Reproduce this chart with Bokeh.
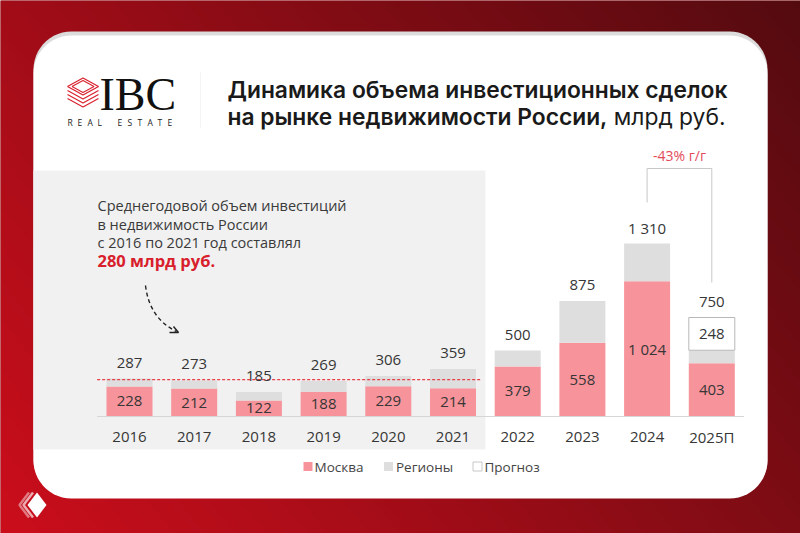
import numpy as np
from bokeh.plotting import figure
from bokeh.models import Range1d, ColumnDataSource
from bokeh.core.properties import value
from bokeh.embed import file_html
from bokeh.resources import INLINE

# ---- data: investment volume, bn RUB ----
years = ["2016", "2017", "2018", "2019", "2020", "2021", "2022", "2023", "2024", "2025П"]
totals = [287, 273, 185, 269, 306, 359, 500, 875, 1310, 750]
moscow = [228, 212, 122, 188, 229, 214, 379, 558, 1024, 403]
forecast = [0, 0, 0, 0, 0, 0, 0, 0, 0, 248]
regions = [t - m - f for t, m, f in zip(totals, moscow, forecast)]

legend_labels = ["Москва", "Регионы", "Прогноз"]

# ---- canvas geometry (pixel <-> data) ----
W, H = 800, 533
X0, STEP = 129.0, 64.7     # pixel x of first category, pixels per category
BASE, K = 416.0, 0.132     # pixel y of zero, pixels per bn RUB


def dx(px):
    return (px - X0) / STEP


def dy(py):
    return (BASE - py) / K


FONT = "Open Sans"
TFONT = "'Inter SemiBold', 'Inter Semi Bold', Inter"

p = figure(width=W, height=H, x_range=Range1d(dx(0), dx(W)), y_range=Range1d(dy(H), dy(0)),
           output_backend="svg", toolbar_location=None, min_border=0,
           x_axis_location=None, y_axis_location=None)
p.grid.visible = False
p.outline_line_color = None
p.background_fill_color = "#8a0c14"
p.border_fill_color = "#8a0c14"

# ---- red gradient background ----
nh, nw = 267, 400
u = (np.arange(nw) + 0.5) / nw
v = (np.arange(nh) + 0.5) / nh
t = np.clip(0.65 * u[None, :] + 0.35 * v[:, None], 0, 1)
c0 = np.array([204, 14, 28])
c1 = np.array([84, 11, 16])
rgb = c0[None, None, :] + (c1 - c0)[None, None, :] * t[:, :, None]
rgba = np.zeros((nh, nw, 4), dtype=np.uint8)
rgba[:, :, :3] = rgb.astype(np.uint8)
rgba[:, :, 3] = 255
img = rgba.view(dtype=np.uint32).reshape((nh, nw))
p.image_rgba(image=[img], x=dx(0), y=dy(H), dw=dx(W) - dx(0), dh=dy(0) - dy(H))


def rounded(l, t_, r, b, rad, n=14):
    xs, ys = [], []
    for cx, cy, a0 in [(r - rad, t_ + rad, -90), (r - rad, b - rad, 0),
                       (l + rad, b - rad, 90), (l + rad, t_ + rad, 180)]:
        for a in np.linspace(a0, a0 + 90, n):
            xs.append(cx + rad * np.cos(np.radians(a)))
            ys.append(cy + rad * np.sin(np.radians(a)))
    return [dx(x) for x in xs], [dy(y) for y in ys]


# ---- white card ----
sx, sy = rounded(33, 31, 767, 497, 38)
p.patch(sx, sy, fill_color="#dcdcdc", line_color=None)
cx_, cy_ = rounded(33, 35, 767, 498, 38)
p.patch(cx_, cy_, fill_color="white", line_color=None)

# light panel behind 2016-2021
p.quad(left=dx(33), right=5.5, top=dy(170), bottom=dy(449), fill_color="#f1f1f1", line_color=None)

# ---- logo ----
red = "#d9232f"
p.line([dx(x) for x in [67, 82.5, 98, 82.5, 67]], [dy(y) for y in [86, 77.5, 86, 94.5, 86]],
       line_color=red, line_width=1.3)
p.line([dx(x) for x in [71.5, 82.5, 93.5, 82.5, 71.5]], [dy(y) for y in [86, 80, 86, 92, 86]],
       line_color=red, line_width=1.1)
for off in (4, 8, 12):
    p.line([dx(x) for x in [67, 82.5, 98]], [dy(86 + off), dy(94.5 + off), dy(86 + off)],
           line_color=red, line_width=1.2)
p.text(x=[dx(99)], y=[dy(94)], text=["IBC"], text_font=value("Liberation Serif"),
       text_font_size="46px", text_color="#111111", text_baseline="middle")
for i, ch in enumerate("REAL ESTATE"):
    if ch != " ":
        p.text(x=[dx(67 + 10 * i)], y=[dy(122)], text=[ch], text_font=value(FONT),
               text_font_size="8.5px", text_color="#222222", text_baseline="middle")
p.segment(x0=dx(200), x1=dx(200), y0=dy(72), y1=dy(127), line_color="#f4f4f4", line_width=1)

# ---- title ----
title_kw = dict(text_font=value(TFONT), text_font_size="22.8px", text_color="#1a1a1a",
                text_baseline="middle")
p.text(x=[dx(227)], y=[dy(88.5)], text=["Динамика объема инвестиционных сделок"], **title_kw)
p.text(x=[dx(227)], y=[dy(116)], text=["на рынке недвижимости России,"], **title_kw)
p.text(x=[dx(725)], y=[dy(116)], text=["млрд руб."], text_font=value("Inter"),
       text_font_size="22.8px", text_color="#1a1a1a", text_baseline="middle", text_align="right")

# ---- bars ----
idx = list(range(len(years)))
src = ColumnDataSource(dict(
    x=idx, moscow=moscow, reg_top=[m + r for m, r in zip(moscow, regions)],
    total_lbl=[f"{v:,}".replace(",", " ") for v in totals],
    mos_lbl=[f"{v:,}".replace(",", " ") for v in moscow],
    mos_mid=[v / 2 for v in moscow], year=years,
    total_y=[v + 16 / K for v in totals], year_y=[dy(436)] * len(years),
))
BW = 46 / STEP
p.vbar(x="x", width=BW, bottom=0, top="moscow", source=src, fill_color="#f7939a", line_color=None)
p.vbar(x="x", width=BW, bottom="moscow", top="reg_top", source=src, fill_color="#dedede", line_color=None)

fc = [(i, t - f, t, f) for i, (t, f) in enumerate(zip(totals, forecast)) if f > 0]
fsrc = ColumnDataSource(dict(x=[a[0] for a in fc], bottom=[a[1] for a in fc], top=[a[2] for a in fc],
                             mid=[(a[1] + a[2]) / 2 for a in fc], lbl=[str(a[3]) for a in fc]))
p.vbar(x="x", width=BW, bottom="bottom", top="top", source=fsrc, fill_color="white",
       line_color="#b8b8b8", line_width=1)

# baseline
p.segment(x0=-0.5, x1=len(years) - 0.5, y0=0, y1=0, line_color="#d6d6d6", line_width=1)

# 2016-2021 average
avg = sum(totals[:6]) / 6
p.segment(x0=-0.5, x1=dx(480), y0=avg, y1=avg, line_color="#e8404a", line_dash="3 2", line_width=1.2)

lbl_kw = dict(text_font=value(FONT), text_font_size="15px", text_color="#363636",
              text_align="center", text_baseline="middle")
p.text(x="x", y="total_y", text="total_lbl", source=src, **lbl_kw)
p.text(x="x", y="mos_mid", text="mos_lbl", source=src, **lbl_kw)
p.text(x="x", y="mid", text="lbl", source=fsrc, **lbl_kw)
p.text(x="x", y="year_y", text="year", source=src, **lbl_kw)

# ---- annotation: average volume ----
note = ["Среднегодовой объем инвестиций", "в недвижимость России",
        f"с {years[0]} по {years[5]} год составлял"]
p.text(x=[dx(97)] * 3, y=[dy(205), dy(223.5), dy(242)], text=note, text_font=value(FONT),
       text_font_size="14.5px", text_color="#3a3a3a", text_baseline="middle")
p.text(x=[dx(97)], y=[dy(260)], text=[f"{round(avg)} млрд руб."], text_font=value(FONT),
       text_font_style="bold", text_font_size="16.5px", text_color="#d8202c", text_baseline="middle")
p.quadratic(x0=[dx(145)], y0=[dy(285)], x1=[dx(176)], y1=[dy(331)], cx=[dx(149)], cy=[dy(318)],
            line_color="#222222", line_width=1.4, line_dash="4 3")
p.line([dx(169), dx(178), dx(173)], [dy(332), dy(332), dy(326)], line_color="#222222", line_width=1.4)

# ---- year-over-year change 2024 -> 2025 ----
chg = round((totals[9] / totals[8] - 1) * 100)
p.line([8, 8, 9, 9], [dy(202), dy(168), dy(168), dy(282)], line_color="#c8c8c8", line_width=1)
p.text(x=[8.5], y=[dy(155)], text=[f"{chg}% г/г"], text_font=value(FONT), text_font_size="14px",
       text_color="#e34a5a", text_align="center", text_baseline="middle")

# ---- legend ----
sq = 9
leg_x = [307.5, 388, 477]
leg_fill = ["#f7939a", "#dedede", "white"]
leg_line = [None, None, "#c8c8c8"]
for xx, fcol, lcol in zip(leg_x, leg_fill, leg_line):
    p.rect(x=[dx(xx)], y=[dy(466)], width=sq / STEP, height=sq / K, fill_color=fcol,
           line_color=lcol, line_width=1)
p.text(x=[dx(314), dx(395.5), dx(484)], y=[dy(466)] * 3, text=legend_labels, text_font=value(FONT),
       text_font_size="13.5px", text_color="#444444", text_baseline="middle")

# ---- small mark bottom-left ----
for off, a in ((8, 0.45), (4, 0.65)):
    p.line([dx(36.5 - off), dx(27 - off), dx(36.5 - off)], [dy(492), dy(504.5), dy(517)],
           line_color="white", line_alpha=a, line_width=2.5)
p.patch([dx(36.5), dx(46), dx(36.5), dx(27)], [dy(492), dy(504.5), dy(517), dy(504.5)],
        fill_color="white", line_color=None)

open("out.html", "w").write(file_html(p, INLINE))
